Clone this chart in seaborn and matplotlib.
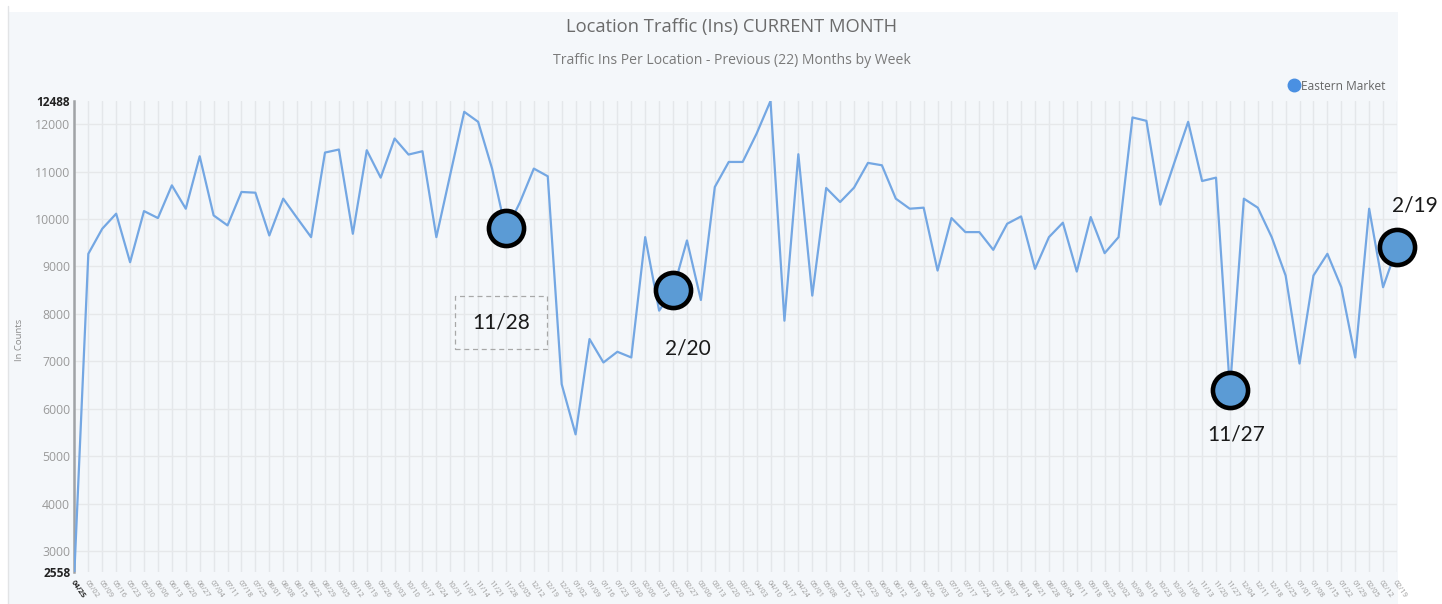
import numpy as np
import pandas as pd
import matplotlib
matplotlib.use("Agg")
import matplotlib.pyplot as plt
from matplotlib.patches import Rectangle
from matplotlib.lines import Line2D
import seaborn as sns

# ---------------- data ----------------
start_date = "2021-04-25"
traffic_ins = [
    2558, 9266, 9795, 10112, 9089, 10167, 10020, 10710, 10217, 11323,
    10076, 9865, 10570, 10555, 9653, 10429, 10020, 9618, 11401, 11465,
    9689, 11450, 10872, 11697, 11359, 11429, 9618, 10943, 12260, 12049,
    11063, 9750, 10350, 11063, 10901, 6518, 5460, 7469, 6975, 7201,
    7081, 9618, 8068, 8500, 9548, 8293, 10675, 11203, 11203, 11800,
    12488, 7856, 11366, 8385, 10654, 10358, 10661, 11183, 11133, 10429,
    10217, 10239, 8913, 10020, 9724, 9724, 9350, 9900, 10055, 8949,
    9618, 9922, 8892, 10041, 9280, 9618, 12141, 12070, 10302, 11183,
    12049, 10801, 10872, 6400, 10429, 10239, 9618, 8808, 6953, 8808,
    9266, 8562, 7081, 10217, 8562, 9400,
]
week_labels = list(pd.date_range(start_date, periods=len(traffic_ins), freq="7D").strftime("%m/%d"))

ann_index = [31, 43, 83, 95]
ann_value = [9800, 8500, 6400, 9400]
ann_label = ["11/28", "2/20", "11/27", "2/19"]

y_ticks = [2558, 3000, 4000, 5000, 6000, 7000, 8000, 9000, 10000, 11000, 12000, 12488]

df = pd.DataFrame({"week": np.arange(len(traffic_ins)), "ins": traffic_ins, "label": week_labels})
ann_df = pd.DataFrame({"week": ann_index, "ins": ann_value, "label": ann_label})

# ---------------- style ----------------
sns.set_theme(style="white")
plt.rcParams["font.family"] = ["Open Sans", "DejaVu Sans"]

W, H = 1442, 604
fig = plt.figure(figsize=(W / 100, H / 100), dpi=100, facecolor="white")
bg = Rectangle((8 / W, 0), (1398 - 8) / W, 1 - 12 / H, transform=fig.transFigure,
               facecolor="#f4f7fa", edgecolor="none", zorder=-10)
fig.add_artist(bg)
fig.add_artist(Line2D([7.5 / W, 7.5 / W], [0, 1 - 6 / H], transform=fig.transFigure,
                      color="#e2e4e6", lw=1, zorder=-9))

x0, x1 = 74.4, 1397
y_top, y_bot = 101, 572
ax = fig.add_axes([x0 / W, 1 - y_bot / H, (x1 - x0) / W, (y_bot - y_top) / H])
ax.set_facecolor("none")
ax.set_zorder(1)

line_color = "#74a7e3"
sns.lineplot(data=df, x="week", y="ins", ax=ax, color=line_color, linewidth=1.6, zorder=3)

# annotation markers
sns.scatterplot(data=ann_df, x="week", y="ins", ax=ax, s=640, color="#5b9bd5",
                edgecolor="black", linewidth=3.3, zorder=5, clip_on=False, legend=False)

ax.set_xlim(0, len(traffic_ins) - 1)
ax.set_ylim(2558, 12488)

# grid
ax.set_xticks(df["week"])
ax.set_yticks(y_ticks)
for w in df["week"]:
    ax.axvline(w, color="#e4e7ea", lw=1.0, zorder=1)
for t in range(3000, 12001, 1000):
    ax.axhline(t, color="#e6e8ea", lw=1.0, zorder=1)

for s in ["top", "right", "bottom"]:
    ax.spines[s].set_visible(False)
ax.spines["left"].set_color("#a0a3a6")
ax.spines["left"].set_linewidth(1.8)

# y tick labels
ax.tick_params(axis="y", length=0, pad=3)
ax.set_yticklabels([str(v) for v in y_ticks], fontsize=8.8, color="#9a9a9a")
for lbl, v in zip(ax.get_yticklabels(), y_ticks):
    if v in (2558, 12488):
        lbl.set_color("#222222")
        lbl.set_fontweight("bold")
        lbl.set_fontsize(8.6)

# x tick labels
ax.tick_params(axis="x", length=0, pad=5)
ax.set_xticklabels(df["label"], fontsize=5.4, color="#9a9a9a", rotation=-55,
                   ha="left", va="top", rotation_mode="anchor")
first = ax.get_xticklabels()[0]
first.set_color("#222222")
first.set_fontweight("bold")

ax.set_xlabel("")
ax.set_ylabel("")
fig.text(19 / W, 1 - 340 / H, "In Counts", rotation=90, ha="center", va="center",
         fontsize=6.8, color="#8a8a8a")

# titles
fig.text(732 / W, 1 - 27 / H, "Location Traffic (Ins) CURRENT MONTH", ha="center", va="center",
         fontsize=13.2, color="#6b6b6b")
fig.text(732 / W, 1 - 60 / H, "Traffic Ins Per Location - Previous (22) Months by Week", ha="center",
         va="center", fontsize=10.1, color="#7a7a7a")

# legend
handle = Line2D([], [], marker="o", linestyle="none", markersize=9,
                markerfacecolor="#4a90e2", markeredgecolor="#4a90e2")
leg = fig.legend([handle], ["Eastern Market"], loc="center right",
                 bbox_to_anchor=(1390 / W, 1 - 86 / H), frameon=False, fontsize=8.6,
                 handletextpad=0.1, borderaxespad=0, handlelength=1.0)
for t in leg.get_texts():
    t.set_color("#666666")

offsets = {"11/28": (-5, -94), "2/20": (15, -58), "11/27": (6, -45), "2/19": (18, 42)}
for _, r in ann_df.iterrows():
    dx, dy = offsets[r["label"]]
    kw = {}
    if r["label"] == "11/28":
        kw["bbox"] = dict(boxstyle="square,pad=0.8", facecolor="none", edgecolor="#a8a8a8",
                          linestyle=(0, (4, 3)), linewidth=0.9)
    ax.annotate(r["label"], xy=(r["week"], r["ins"]), xytext=(dx, dy), textcoords="offset pixels",
                ha="center", va="center", fontsize=15, color="#1a1a1a", family=["Lato", "DejaVu Sans"],
                annotation_clip=False, zorder=6, **kw)

fig.savefig("out.png", dpi=100, facecolor=fig.get_facecolor())
